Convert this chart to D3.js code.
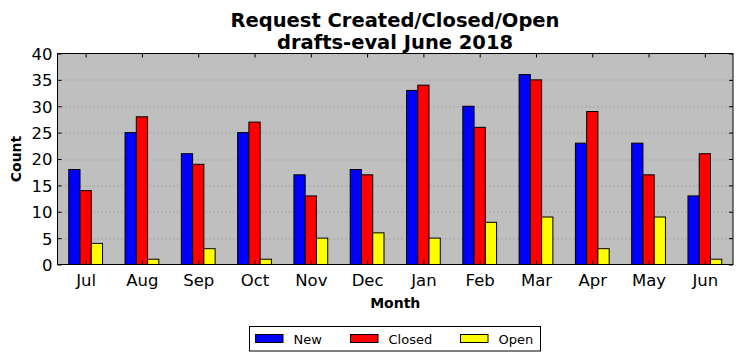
<!DOCTYPE html>
<html>
<head>
<meta charset="utf-8">
<script src="https://cdn.jsdelivr.net/npm/d3@7"></script>
<style>
  body { margin: 0; background: #fff; }
  text { font-family: "DejaVu Sans", sans-serif; }
</style>
</head>
<body>
<div id="chart"></div>
<script>
const months = ['Jul', 'Aug', 'Sep', 'Oct', 'Nov', 'Dec', 'Jan', 'Feb', 'Mar', 'Apr', 'May', 'Jun'];
const newCounts = [18, 25, 21, 25, 17, 18, 33, 30, 36, 23, 23, 13];
const closedCounts = [14, 28, 19, 27, 13, 17, 34, 26, 35, 29, 17, 21];
const openCounts = [4, 1, 3, 1, 5, 6, 5, 8, 9, 3, 9, 1];
const yTicks = [0, 5, 10, 15, 20, 25, 30, 35, 40];

const series = [
  { name: 'New', values: newCounts, color: '#0000ff' },
  { name: 'Closed', values: closedCounts, color: '#ff0000' },
  { name: 'Open', values: openCounts, color: '#ffff00' }
];

const width = 742, height = 361;
const margin = { top: 53.5, right: 9, bottom: 96.5, left: 57.5 };
const innerW = width - margin.left - margin.right;
const innerH = height - margin.top - margin.bottom;

const svg = d3.select('#chart').append('svg')
  .attr('width', width)
  .attr('height', height);

// titles
svg.append('text')
  .attr('x', 395).attr('y', 26.5)
  .attr('text-anchor', 'middle')
  .style('font-size', '19.5px').style('font-weight', 'bold')
  .text('Request Created/Closed/Open');
svg.append('text')
  .attr('x', 395).attr('y', 48.5)
  .attr('text-anchor', 'middle')
  .style('font-size', '19.5px').style('font-weight', 'bold')
  .text('drafts-eval June 2018');

const g = svg.append('g').attr('transform', `translate(${margin.left},${margin.top})`);

// linear x in "index" units like matplotlib
const x = d3.scaleLinear().domain([-0.5, months.length - 0.5]).range([0, innerW]);
const y = d3.scaleLinear().domain([0, 40]).range([innerH, 0]);

g.append('rect')
  .attr('width', innerW).attr('height', innerH)
  .attr('fill', '#bfbfbf');

// grid
g.selectAll('.grid')
  .data(yTicks.filter(d => d > 0 && d < 40))
  .enter().append('line')
  .attr('x1', 0).attr('x2', innerW)
  .attr('y1', d => Math.round(y(d)) + 0.5).attr('y2', d => Math.round(y(d)) + 0.5)
  .attr('stroke', '#8a8a8a')
  .attr('stroke-width', 1)
  .attr('stroke-dasharray', '1,3');

// bars
const barW = 0.2;
series.forEach((s, si) => {
  g.selectAll(`.bar-${si}`)
    .data(s.values)
    .enter().append('rect')
    .attr('x', (d, i) => x(i - 0.3 + si * barW))
    .attr('width', x(barW) - x(0))
    .attr('y', d => y(d))
    .attr('height', d => y(0) - y(d))
    .attr('fill', s.color)
    .attr('stroke', '#000')
    .attr('stroke-width', 1);
});

// axes (ticks inside, on all sides)
const tickLen = 4;
const xAxis = d3.axisBottom(x).tickValues(d3.range(months.length))
  .tickFormat(i => months[i]).tickSizeInner(-tickLen).tickSizeOuter(0).tickPadding(10);
const xAxisTop = d3.axisTop(x).tickValues(d3.range(months.length))
  .tickFormat('').tickSizeInner(-tickLen).tickSizeOuter(0);
const yAxis = d3.axisLeft(y).tickValues(yTicks)
  .tickSizeInner(-tickLen).tickSizeOuter(0).tickPadding(5);
const yAxisRight = d3.axisRight(y).tickValues(yTicks)
  .tickFormat('').tickSizeInner(-tickLen).tickSizeOuter(0);

const styleAxis = sel => {
  sel.select('.domain').remove();
  sel.selectAll('text').style('font-size', '16.5px').attr('fill', '#000')
    .style('font-family', '"DejaVu Sans", sans-serif');
  sel.selectAll('line').attr('stroke', '#000');
};

g.append('g').attr('transform', `translate(0,${innerH})`).call(xAxis).call(styleAxis);
g.append('g').call(xAxisTop).call(styleAxis);
g.append('g').call(yAxis).call(styleAxis)
  .selectAll('text').attr('dy', '0.36em');
g.append('g').attr('transform', `translate(${innerW},0)`).call(yAxisRight).call(styleAxis);

// frame
g.append('rect')
  .attr('width', innerW).attr('height', innerH)
  .attr('fill', 'none').attr('stroke', '#000').attr('stroke-width', 1);

// axis labels
svg.append('text')
  .attr('x', margin.left + innerW / 2).attr('y', 308)
  .attr('text-anchor', 'middle')
  .style('font-size', '14px').style('font-weight', 'bold')
  .text('Month');
svg.append('text')
  .attr('transform', `translate(21,${margin.top + innerH / 2}) rotate(-90)`)
  .attr('text-anchor', 'middle')
  .style('font-size', '14px').style('font-weight', 'bold')
  .text('Count');

// legend
const legend = svg.append('g').attr('transform', 'translate(249.5,326.5)');
legend.append('rect')
  .attr('width', 291).attr('height', 24.5)
  .attr('fill', '#fff').attr('stroke', '#000').attr('stroke-width', 1);
const legendX = [6, 101, 211];
series.forEach((s, si) => {
  const item = legend.append('g').attr('transform', `translate(${legendX[si]},0)`);
  item.append('rect')
    .attr('x', 0).attr('y', 8).attr('width', 27.5).attr('height', 8)
    .attr('fill', s.color).attr('stroke', '#000').attr('stroke-width', 1);
  item.append('text')
    .attr('x', 38).attr('y', 17)
    .style('font-size', '13px')
    .text(s.name);
});
</script>
</body>
</html>
